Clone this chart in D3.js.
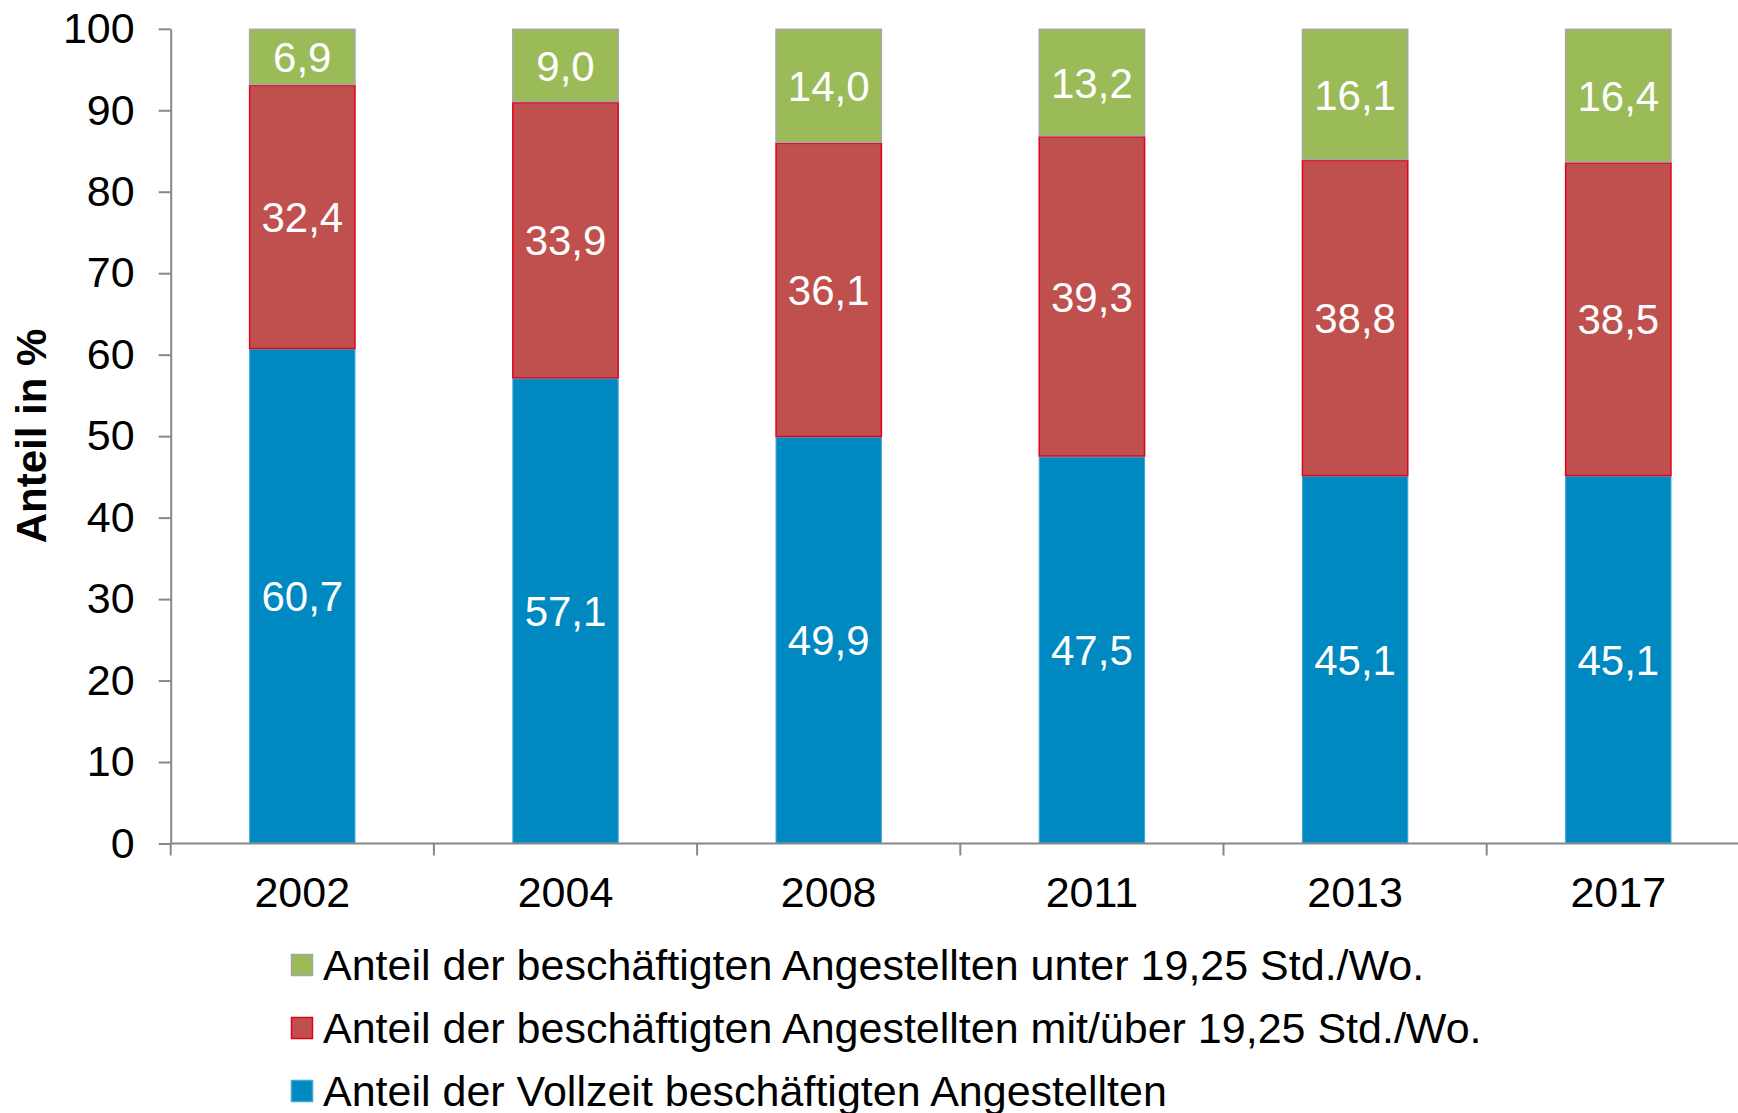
<!DOCTYPE html>
<html>
<head>
<meta charset="utf-8">
<script src="https://cdn.jsdelivr.net/npm/d3@7"></script>
<style>
  body { margin: 0; background: #fff; }
  svg { display: block; font-family: "Liberation Sans", Arial, sans-serif; }
</style>
</head>
<body>
<script>
//Years along the x axis
var years = ["2002", "2004", "2008", "2011", "2013", "2017"];

//Shares in percent, one array per series (bottom to top)
var vollzeit = [60.7, 57.1, 49.9, 47.5, 45.1, 45.1];
var ueber1925 = [32.4, 33.9, 36.1, 39.3, 38.8, 38.5];
var unter1925 = [6.9, 9.0, 14.0, 13.2, 16.1, 16.4];

var yTicks = [0, 10, 20, 30, 40, 50, 60, 70, 80, 90, 100];

var seriesKeys = ["vollzeit", "ueber", "unter"];
var seriesNames = {
  unter: "Anteil der beschäftigten Angestellten unter 19,25 Std./Wo.",
  ueber: "Anteil der beschäftigten Angestellten mit/über 19,25 Std./Wo.",
  vollzeit: "Anteil der Vollzeit beschäftigten Angestellten"
};
var fills = { vollzeit: "#0089c1", ueber: "#c0504d", unter: "#9bbb59" };
var strokes = { vollzeit: "#3fa6d3", ueber: "#e3001b", unter: "#a6a6a6" };

//Build rows for d3.stack
var data = years.map(function(y, i) {
  return { year: y, vollzeit: vollzeit[i], ueber: ueber1925[i], unter: unter1925[i] };
});

var width = 1738, height = 1113;
var x0 = 170.7, step = 263.2;
var fontSize = "43px";

var svg = d3.select("body").append("svg")
  .attr("width", width)
  .attr("height", height);

var x = d3.scaleBand()
  .domain(years)
  .range([x0, x0 + step * years.length])
  .paddingInner(0.596)
  .paddingOuter(0.298);

var y = d3.scaleLinear()
  .domain([0, 100])
  .range([843.5, 28.8]);

var stacked = d3.stack().keys(seriesKeys)(data);

//Bars
var layer = svg.selectAll(".layer")
  .data(stacked)
  .enter().append("g")
  .attr("class", "layer");

layer.selectAll("rect")
  .data(function(s) { return s.map(function(d) { d.key = s.key; return d; }); })
  .enter().append("rect")
  .attr("x", function(d) { return x(d.data.year) + 0.5; })
  .attr("y", function(d) { return y(d[1]) + 0.5; })
  .attr("width", x.bandwidth() - 1)
  .attr("height", function(d) { return y(d[0]) - y(d[1]) - 1; })
  .attr("fill", function(d) { return fills[d.key]; })
  .attr("stroke", function(d) { return strokes[d.key]; })
  .attr("stroke-width", function(d) { return d.key === "vollzeit" ? 1 : 1.5; });

//Value labels
layer.selectAll("text")
  .data(function(s) { return s.map(function(d) { d.key = s.key; return d; }); })
  .enter().append("text")
  .attr("x", function(d) { return x(d.data.year) + x.bandwidth() / 2; })
  .attr("y", function(d) { return y((d[0] + d[1]) / 2); })
  .attr("dy", "0.36em")
  .attr("text-anchor", "middle")
  .attr("fill", "#fff")
  .style("font-size", "42px")
  .text(function(d) { return d3.format(".1f")(d[1] - d[0]).replace(".", ","); });

//Y axis
var yAxis = svg.append("g")
  .attr("transform", "translate(" + x0 + ",0)")
  .call(d3.axisLeft(y).tickValues(yTicks).tickSize(12).tickPadding(24).tickSizeOuter(0));
yAxis.select(".domain").attr("stroke", "#878787").attr("stroke-width", 2);
yAxis.selectAll(".tick line").attr("stroke", "#878787").attr("stroke-width", 2);
yAxis.selectAll(".tick text")
  .attr("fill", "#000")
  .style("font-size", fontSize)
  .style("font-family", "'Liberation Sans', Arial, sans-serif");

//X axis: ticks sit between the categories
var xAxis = svg.append("g")
  .attr("transform", "translate(0," + y(0) + ")");
xAxis.append("line")
  .attr("x1", x0).attr("x2", x0 + step * years.length)
  .attr("stroke", "#878787").attr("stroke-width", 2);
xAxis.selectAll(".xtick")
  .data(d3.range(years.length + 1))
  .enter().append("line")
  .attr("class", "xtick")
  .attr("x1", function(i) { return x0 + i * step; })
  .attr("x2", function(i) { return x0 + i * step; })
  .attr("y1", 0).attr("y2", 12)
  .attr("stroke", "#878787").attr("stroke-width", 2);
xAxis.selectAll(".xlabel")
  .data(years)
  .enter().append("text")
  .attr("class", "xlabel")
  .attr("x", function(d) { return x(d) + x.bandwidth() / 2; })
  .attr("y", 48)
  .attr("dy", "0.36em")
  .attr("text-anchor", "middle")
  .style("font-size", fontSize)
  .text(function(d) { return d; });

//Y axis title
svg.append("text")
  .attr("transform", "translate(31,436) rotate(-90)")
  .attr("dy", "0.36em")
  .attr("text-anchor", "middle")
  .style("font-size", "42px")
  .style("font-weight", "bold")
  .text("Anteil in %");

//Legend (top series first)
var legendKeys = ["unter", "ueber", "vollzeit"];
var legend = svg.selectAll(".legend")
  .data(legendKeys)
  .enter().append("g")
  .attr("class", "legend")
  .attr("transform", function(d, i) { return "translate(291," + (965 + i * 63) + ")"; });

legend.append("rect")
  .attr("x", 0.5).attr("y", -10.5)
  .attr("width", 21).attr("height", 21)
  .attr("fill", function(d) { return fills[d]; })
  .attr("stroke", function(d) { return strokes[d]; })
  .attr("stroke-width", 1.5);

legend.append("text")
  .attr("x", 32)
  .attr("dy", "0.36em")
  .style("font-size", fontSize)
  .text(function(d) { return seriesNames[d]; });
</script>
</body>
</html>
